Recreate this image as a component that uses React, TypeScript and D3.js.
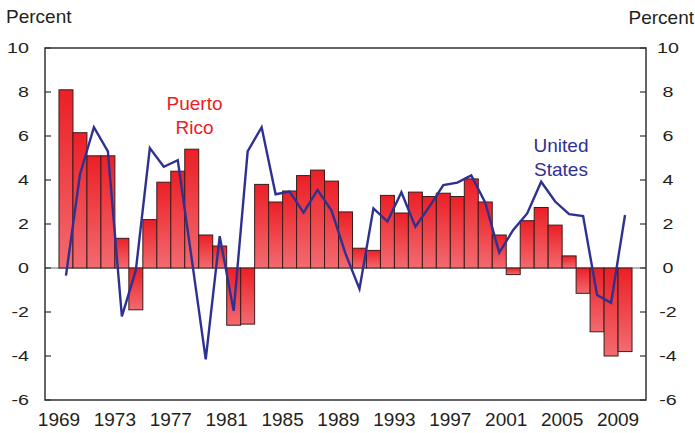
import { useEffect, useRef } from 'react';
import * as d3 from 'd3';

// fiscal years shown as bars (Puerto Rico) and line (United States)
const years = d3.range(1969, 2010);
const puertoRico = [
  8.1, 6.15, 5.1, 5.1, 1.35, -1.9, 2.2, 3.9, 4.4, 5.4,
  1.5, 1.0, -2.6, -2.55, 3.8, 3.0, 3.5, 4.2, 4.45, 3.95,
  2.55, 0.9, 0.8, 3.3, 2.5, 3.45, 3.25, 3.4, 3.25, 4.05,
  3.0, 1.5, -0.3, 2.15, 2.75, 1.95, 0.55, -1.15, -2.9, -4.0,
  -3.8,
];
const unitedStates = [
  -0.35, 4.25, 6.4, 5.3, -2.2, -0.1, 5.45, 4.6, 4.9, 0.4,
  -4.15, 1.45, -1.95, 5.3, 6.4, 3.35, 3.47, 2.52, 3.55, 2.61,
  0.65, -0.95, 2.71, 2.11, 3.44, 1.88, 2.79, 3.77, 3.88, 4.21,
  2.97, 0.7, 1.73, 2.48, 3.92, 3.02, 2.45, 2.36, -1.23, -1.58,
  2.41,
];
const yTicks = [10, 8, 6, 4, 2, 0, -2, -4, -6];
const xTicks = [1969, 1973, 1977, 1981, 1985, 1989, 1993, 1997, 2001, 2005, 2009];

const W = 695;
const H = 433;
const FONT = '"Liberation Sans", Arial, sans-serif';

export default function App() {
  const svgRef = useRef<SVGSVGElement>(null);

  useEffect(() => {
    if (!svgRef.current) return;
    const svg = d3.select(svgRef.current);
    svg.selectAll('*').remove();

    const box = { left: 45, right: 646, top: 48, bottom: 400 };

    const x = d3.scaleLinear().domain([1968, 2011]).range([box.left, box.right]);
    const y = d3.scaleLinear().domain([-6, 10]).range([box.bottom, box.top]);

    // bar gradient
    const defs = svg.append('defs');
    const grad = defs.append('linearGradient')
      .attr('id', 'barGrad')
      .attr('x1', 0).attr('y1', 0).attr('x2', 0).attr('y2', 1);
    grad.append('stop').attr('offset', '0%').attr('stop-color', '#ec1f26');
    grad.append('stop').attr('offset', '100%').attr('stop-color', '#f26b70');

    // zero line
    svg.append('line')
      .attr('x1', box.left).attr('x2', box.right)
      .attr('y1', y(0)).attr('y2', y(0))
      .attr('stroke', '#6d6e71')
      .attr('stroke-width', 1.2);

    // bars
    svg.append('g')
      .selectAll('rect')
      .data(years)
      .enter()
      .append('rect')
      .attr('x', d => x(d))
      .attr('width', d => x(d + 1) - x(d))
      .attr('y', (d, i) => y(Math.max(0, puertoRico[i])))
      .attr('height', (d, i) => Math.abs(y(puertoRico[i]) - y(0)))
      .attr('fill', 'url(#barGrad)')
      .attr('stroke', '#3a1c1c')
      .attr('stroke-width', 1);

    // US line
    const line = d3.line<number>()
      .x((d, i) => x(years[i] + 0.5))
      .y(d => y(d));
    svg.append('path')
      .datum(unitedStates)
      .attr('d', line)
      .attr('fill', 'none')
      .attr('stroke', '#2e3192')
      .attr('stroke-width', 2.4)
      .attr('stroke-linejoin', 'miter');

    // frame
    svg.append('rect')
      .attr('x', box.left).attr('y', box.top)
      .attr('width', box.right - box.left)
      .attr('height', box.bottom - box.top)
      .attr('fill', 'none')
      .attr('stroke', '#333')
      .attr('stroke-width', 1.5);

    // y ticks, both sides pointing inward
    yTicks.forEach(v => {
      svg.append('line')
        .attr('x1', box.left).attr('x2', box.left + 6)
        .attr('y1', y(v)).attr('y2', y(v))
        .attr('stroke', '#333').attr('stroke-width', 1.2);
      svg.append('line')
        .attr('x1', box.right - 6).attr('x2', box.right)
        .attr('y1', y(v)).attr('y2', y(v))
        .attr('stroke', '#333').attr('stroke-width', 1.2);

      svg.append('text')
        .attr('transform', `translate(29,${y(v)}) scale(1.27,1)`)
        .attr('dy', '0.35em')
        .attr('text-anchor', 'end')
        .style('font-family', FONT)
        .style('font-size', '15.5px')
        .attr('fill', '#231f20')
        .text(v);
      svg.append('text')
        .attr('transform', `translate(668,${y(v)}) scale(1.27,1)`)
        .attr('dy', '0.35em')
        .attr('text-anchor', 'middle')
        .style('font-family', FONT)
        .style('font-size', '15.5px')
        .attr('fill', '#231f20')
        .text(v);
    });

    // x labels
    svg.append('g')
      .selectAll('text')
      .data(xTicks)
      .enter()
      .append('text')
      .attr('x', d => x(d))
      .attr('y', box.bottom + 26)
      .attr('text-anchor', 'middle')
      .style('font-family', FONT)
      .style('font-size', '19px')
      .attr('fill', '#231f20')
      .text(d => d);

    // axis titles
    svg.append('text')
      .attr('x', 6).attr('y', 23)
      .style('font-family', FONT)
      .style('font-size', '19px')
      .attr('fill', '#231f20')
      .text('Percent');
    svg.append('text')
      .attr('x', 694).attr('y', 24)
      .attr('text-anchor', 'end')
      .style('font-family', FONT)
      .style('font-size', '19px')
      .attr('fill', '#231f20')
      .text('Percent');

    // series labels
    const pr = svg.append('text')
      .attr('text-anchor', 'middle')
      .style('font-family', FONT)
      .style('font-size', '19px')
      .attr('fill', '#ed1c24');
    pr.append('tspan').attr('x', 194.5).attr('y', 110).text('Puerto');
    pr.append('tspan').attr('x', 194.5).attr('y', 133.5).text('Rico');

    const us = svg.append('text')
      .attr('text-anchor', 'middle')
      .style('font-family', FONT)
      .style('font-size', '19px')
      .attr('fill', '#2e3192');
    us.append('tspan').attr('x', 561).attr('y', 152).text('United');
    us.append('tspan').attr('x', 561).attr('y', 176).text('States');
  }, []);

  return (
    <svg
      ref={svgRef}
      width={W}
      height={H}
      style={{ position: 'absolute', left: 0, top: 0, background: '#fff' }}
    />
  );
}
